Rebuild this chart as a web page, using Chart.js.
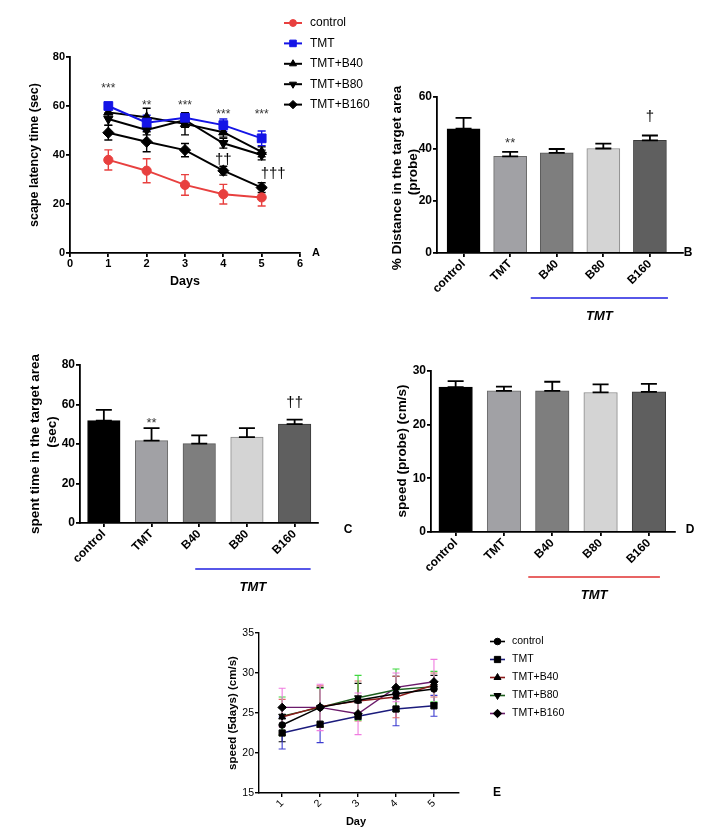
<!DOCTYPE html>
<html>
<head>
<meta charset="utf-8">
<script src="https://cdn.jsdelivr.net/npm/chart.js@4.4.0/dist/chart.umd.min.js"></script>
<style>
html,body{margin:0;padding:0;background:#fff;width:716px;height:839px;overflow:hidden}
canvas{position:absolute;left:0;top:0}
</style>
</head>
<body>
<canvas id="cA" width="716" height="839"></canvas>
<canvas id="cB" width="716" height="839"></canvas>
<canvas id="cC" width="716" height="839"></canvas>
<canvas id="cD" width="716" height="839"></canvas>
<canvas id="cE" width="716" height="839"></canvas>
<script>
// ================= DATA =================
// Panel A: escape latency (sec) over days
const daysA = [1, 2, 3, 4, 5];
const seriesNames = ['control', 'TMT', 'TMT+B40', 'TMT+B80', 'TMT+B160'];
const latControl = [38.0, 33.6, 27.8, 24.0, 22.7];
const latTMT     = [60.0, 53.2, 55.2, 52.2, 46.8];
const latB40     = [57.4, 55.4, 52.7, 49.3, 41.3];
const latB80     = [54.7, 50.2, 54.3, 44.8, 40.0];
const latB160    = [49.1, 45.4, 42.0, 33.6, 26.7];
const latErrControl = [4.1, 4.9, 4.2, 4.0, 3.5];
const latErrTMT     = [1.0, 3.0, 2.0, 2.5, 3.0];
const latErrB40     = [2.0, 3.7, 4.5, 2.0, 2.0];
const latErrB80     = [2.5, 2.0, 3.0, 2.0, 2.0];
const latErrB160    = [3.0, 4.1, 2.7, 1.8, 2.0];
const starLabelsA = ['***', '**', '***', '***', '***'];
const starYA      = [67, 60, 60, 56.5, 56.5];
const daggerLabelsA = ['††', '†††'];
const daggerXA      = [4, 5.3];
const daggerYA      = [38, 32.2];

// Bar panels
const groups = ['control', 'TMT', 'B40', 'B80', 'B160'];
// Panel B: % distance in the target area (probe)
const distMean = [47.8, 37.2, 38.5, 40.2, 43.3];
const distErr  = [4.2, 1.7, 1.5, 1.9, 1.9];
const distMarks  = ['', '**', '', '', '†'];
const distMarkY  = [0, 42, 0, 0, 52.5];
// Panel C: spent time in the target area (sec)
const timeMean = [51.8, 41.7, 40.2, 43.5, 50.1];
const timeErr  = [5.5, 6.3, 4.2, 4.5, 2.2];
const timeMarks = ['', '**', '', '', '††'];
const timeMarkY = [0, 50.3, 0, 0, 60.6];
// Panel D: speed (probe) (cm/s)
const speedMean = [27.0, 26.3, 26.3, 26.0, 26.1];
const speedErr  = [1.1, 0.8, 1.7, 1.5, 1.5];

// Panel E: speed over 5 days (cm/s)
const daysE = [1, 2, 3, 4, 5];
const spdControl = [23.5, 25.7, 26.6, 27.4, 28.0];
const spdTMT     = [22.5, 23.6, 24.6, 25.5, 25.9];
const spdB40     = [24.5, 25.8, 26.5, 27.0, 28.5];
const spdB80     = [24.6, 25.7, 26.9, 27.9, 28.3];
const spdB160    = [25.7, 25.7, 24.9, 28.2, 28.9];
const spdErrControl = [2.1, 2.5, 2.1, 2.2, 1.7];
const spdErrTMT     = [2.0, 2.3, 0.4, 2.1, 1.3];
const spdErrB40     = [2.2, 2.6, 2.5, 2.6, 1.5];
const spdErrB80     = [2.4, 2.4, 2.8, 2.6, 1.9];
const spdErrB160    = [2.4, 2.9, 2.6, 1.8, 2.8];

// ================= HELPERS =================
const W = 716, H = 839;
const FF = "'Liberation Sans', Arial, Helvetica, sans-serif";

function merge(a, b) {
  const o = Object.assign({}, a);
  for (const k in b) {
    const v = b[k];
    if (v && typeof v === 'object' && !Array.isArray(v) && a[k] && typeof a[k] === 'object' && !Array.isArray(a[k])) o[k] = merge(a[k], v);
    else o[k] = v;
  }
  return o;
}
function fixedLayout(area, yW, xH) {
  return {autoPadding: false, padding: {left: area.l - yW, top: area.t, right: W - area.r, bottom: H - area.b - xH}};
}
function axis(pos, size, font, lw, extra) {
  const base = {
    position: pos,
    afterFit: pos === 'left' ? (s => { s.width = size; }) : (s => { s.height = size; }),
    border: {display: true, color: '#000', width: lw},
    grid: {display: true, drawOnChartArea: false, drawTicks: true, tickLength: 4, color: '#000', lineWidth: lw, offset: false},
    ticks: {color: '#000', font: font, padding: 1, autoSkip: false}
  };
  return merge(base, extra || {});
}
function txt(ctx, s, x, y, font, o) {
  o = o || {};
  ctx.save();
  ctx.font = font;
  ctx.fillStyle = o.color || '#000';
  ctx.textAlign = o.align || 'center';
  ctx.textBaseline = o.baseline || 'middle';
  if (o.rot) { ctx.translate(x, y); ctx.rotate(o.rot); ctx.fillText(s, 0, 0); }
  else ctx.fillText(s, x, y);
  ctx.restore();
}
function marker(ctx, style, r, rot, x, y, fill, stroke) {
  ctx.save();
  ctx.fillStyle = fill; ctx.strokeStyle = stroke; ctx.lineWidth = 1;
  if (Chart.helpers && Chart.helpers.drawPoint) {
    Chart.helpers.drawPoint(ctx, {pointStyle: style, radius: r, rotation: rot, borderWidth: 1}, x, y);
  } else {
    ctx.beginPath(); ctx.arc(x, y, r, 0, Math.PI * 2); ctx.fill();
  }
  ctx.restore();
}
function errLine(ctx, x, yTop, yBot, cap, color, lw) {
  ctx.save();
  ctx.strokeStyle = color; ctx.lineWidth = lw;
  ctx.beginPath();
  ctx.moveTo(x, yTop); ctx.lineTo(x, yBot);
  ctx.moveTo(x - cap / 2, yTop); ctx.lineTo(x + cap / 2, yTop);
  if (yBot !== null) { ctx.moveTo(x - cap / 2, yBot); ctx.lineTo(x + cap / 2, yBot); }
  ctx.stroke();
  ctx.restore();
}
const commonOpts = {responsive: false, animation: false, events: [], devicePixelRatio: 1,
  plugins: {legend: {display: false}, tooltip: {enabled: false}}};

// line-chart error bars (both directions), drawn under markers
const lineErrPlugin = {
  id: 'lineErr',
  beforeDatasetsDraw(chart, args, opts) {
    const ctx = chart.ctx, ys = chart.scales.y;
    chart.data.datasets.forEach((ds, di) => {
      const meta = chart.getDatasetMeta(di);
      meta.data.forEach((pt, i) => {
        const v = ds.data[i].y, e = ds.err[i];
        const yT = ys.getPixelForValue(v + e), yB = ys.getPixelForValue(v - e);
        ctx.save();
        ctx.strokeStyle = ds.errColor; ctx.lineWidth = opts.lw;
        ctx.beginPath();
        ctx.moveTo(pt.x, yT); ctx.lineTo(pt.x, yB);
        ctx.moveTo(pt.x - opts.cap / 2, yT); ctx.lineTo(pt.x + opts.cap / 2, yT);
        ctx.moveTo(pt.x - opts.cap / 2, yB); ctx.lineTo(pt.x + opts.cap / 2, yB);
        ctx.stroke();
        ctx.restore();
      });
    });
  }
};

// ================= PANEL A =================
const areaA = {l: 70, t: 57, r: 300, b: 253};
const latA = [latControl, latTMT, latB40, latB80, latB160];
const latErrA = [latErrControl, latErrTMT, latErrB40, latErrB80, latErrB160];
const colA = ['#e8403f', '#1414e6', '#000000', '#000000', '#000000'];
const styleA = ['circle', 'rect', 'triangle', 'triangle', 'rectRot'];
const rotA = [0, 0, 0, 180, 0];
const radA = [4.6, 6.2, 5.4, 5.4, 5.6];
const FB11 = {family: FF, size: 11, weight: 'bold'};

new Chart(document.getElementById('cA'), {
  type: 'line',
  data: {datasets: seriesNames.map((n, k) => ({
    label: n,
    data: daysA.map((d, i) => ({x: d, y: latA[k][i]})),
    err: latErrA[k], errColor: colA[k],
    borderColor: colA[k], backgroundColor: colA[k], borderWidth: 2,
    pointStyle: styleA[k], pointRotation: rotA[k], pointRadius: radA[k], pointBorderWidth: 1,
    pointBackgroundColor: colA[k], pointBorderColor: colA[k], tension: 0
  }))},
  options: merge(commonOpts, {
    layout: fixedLayout(areaA, 40, 30),
    plugins: {lineErr: {lw: 1.4, cap: 8}},
    scales: {
      x: axis('bottom', 30, FB11, 1.8, {type: 'linear', min: 0, max: 6, ticks: {stepSize: 1, padding: 0}}),
      y: axis('left', 40, FB11, 1.8, {type: 'linear', min: 0, max: 80, ticks: {stepSize: 20}})
    }
  }),
  plugins: [lineErrPlugin, {
    id: 'decorA',
    afterDraw(chart) {
      const ctx = chart.ctx, xs = chart.scales.x, ys = chart.scales.y, ca = chart.chartArea;
      starLabelsA.forEach((s, i) => txt(ctx, s, xs.getPixelForValue(daysA[i]), ys.getPixelForValue(starYA[i]), `12px ${FF}`, {color: '#333'}));
      daggerLabelsA.forEach((s, i) => txt(ctx, s, xs.getPixelForValue(daggerXA[i]), ys.getPixelForValue(daggerYA[i]), `15px ${FF}`));
      txt(ctx, 'scape latency time (sec)', 35, (ca.top + ca.bottom) / 2, `bold 12.5px ${FF}`, {rot: -Math.PI / 2});
      txt(ctx, 'Days', (ca.left + ca.right) / 2, 282, `bold 12.5px ${FF}`);
      txt(ctx, 'A', 316, ca.bottom, `bold 11px ${FF}`);
      // legend
      seriesNames.forEach((n, k) => {
        const y = 23 + 20.4 * k;
        ctx.save(); ctx.strokeStyle = colA[k]; ctx.lineWidth = 2;
        ctx.beginPath(); ctx.moveTo(284, y); ctx.lineTo(302, y); ctx.stroke(); ctx.restore();
        marker(ctx, styleA[k], radA[k] * 0.75, rotA[k], 293, y, colA[k], colA[k]);
        txt(ctx, n, 310, y, `12px ${FF}`, {align: 'left'});
      });
    }
  }]
});

// ================= BAR PANELS =================
const barColors = ['#000000', '#a1a1a5', '#7e7e7e', '#d4d4d4', '#5f5f5f'];
const barBorders = ['#000000', '#6a6a6a', '#5a5a5a', '#8a8a8a', '#3a3a3a'];
const FB12 = {family: FF, size: 12, weight: 'bold'};

function barChart(id, area, xmin, xmax, ymax, step, means, errs, thick, marks, markY, title, titleX, titleY, letter, letterPos, groupLine) {
  new Chart(document.getElementById(id), {
    type: 'bar',
    data: {datasets: [{
      data: groups.map((g, i) => ({x: i, y: means[i]})),
      backgroundColor: barColors, borderColor: barBorders, borderWidth: 1, borderSkipped: 'bottom',
      barThickness: thick
    }]},
    options: merge(commonOpts, {
      layout: fixedLayout(area, 40, 60),
      scales: {
        x: axis('bottom', 60, FB12, 1.8, {type: 'linear', min: xmin, max: xmax, offset: false,
          afterBuildTicks: s => { s.ticks = groups.map((g, i) => ({value: i})); },
          ticks: {minRotation: 45, maxRotation: 45, padding: 0, callback: v => groups[Math.round(v)]}}),
        y: axis('left', 40, FB12, 1.8, {type: 'linear', min: 0, max: ymax, ticks: {stepSize: step}})
      }
    }),
    plugins: [{
      id: 'decor' + id,
      afterDatasetsDraw(chart) {
        const ctx = chart.ctx, ys = chart.scales.y;
        chart.getDatasetMeta(0).data.forEach((bar, i) => {
          errLine(ctx, bar.x, ys.getPixelForValue(means[i] + errs[i]), bar.y, 16, '#000', 1.8);
        });
      },
      afterDraw(chart) {
        const ctx = chart.ctx, xs = chart.scales.x, ys = chart.scales.y, ca = chart.chartArea;
        marks.forEach((m, i) => {
          if (!m) return;
          const big = m.indexOf('†') >= 0;
          txt(ctx, m, xs.getPixelForValue(i), ys.getPixelForValue(markY[i]), (big ? '15px ' : '13px ') + FF, {color: big ? '#000' : '#333'});
        });
        title.forEach((t, j) => txt(ctx, t, titleX[j], titleY[j], `bold 13.5px ${FF}`, {rot: -Math.PI / 2}));
        txt(ctx, letter, letterPos[0], letterPos[1], `bold 12px ${FF}`);
        // TMT group underline
        const x1 = xs.getPixelForValue(2) + groupLine.dl, x2 = xs.getPixelForValue(4) + groupLine.dr;
        const ly = ca.bottom + groupLine.dy;
        ctx.save(); ctx.strokeStyle = groupLine.color; ctx.lineWidth = 1.6;
        ctx.beginPath(); ctx.moveTo(x1, ly); ctx.lineTo(x2, ly); ctx.stroke(); ctx.restore();
        txt(ctx, 'TMT', (x1 + x2) / 2, ly + 18, `italic bold 13px ${FF}`);
      }
    }]
  });
}

barChart('cB', {l: 437, t: 97, r: 683, b: 253}, -0.57, 4.71, 60, 20, distMean, distErr, 33,
  distMarks, distMarkY, ['% Distance in the target area', '(probe)'], [397, 413], [178, 172],
  'B', [688, 253], {dl: -26, dr: 18, dy: 45, color: '#1f1fe0'});

barChart('cC', {l: 80, t: 365, r: 318, b: 523}, -0.5, 4.49, 80, 20, timeMean, timeErr, 32.5,
  timeMarks, timeMarkY, ['spent time in the target area', '(sec)'], [35, 52], [444, 432],
  'C', [348, 530], {dl: -4, dr: 16, dy: 46, color: '#1f1fe0'});

barChart('cD', {l: 431, t: 371, r: 675, b: 532}, -0.51, 4.54, 30, 10, speedMean, speedErr, 33.5,
  ['', '', '', '', ''], [0, 0, 0, 0, 0], ['speed (probe) (cm/s)'], [402], [451],
  'D', [690, 530], {dl: -24, dr: 11, dy: 45, color: '#e03030'});

// ================= PANEL E =================
const areaE = {l: 259, t: 633, r: 459, b: 793};
const spdE = [spdControl, spdTMT, spdB40, spdB80, spdB160];
const spdErrE = [spdErrControl, spdErrTMT, spdErrB40, spdErrB80, spdErrB160];
const lineColE = ['#000000', '#1b1b7c', '#8c1b1b', '#1d5f1d', '#6b1b6b'];
const errColE = ['#000000', '#3c3cd0', '#e06a6a', '#3fd83f', '#f07ce0'];
const styleE = ['circle', 'rect', 'triangle', 'triangle', 'rectRot'];
const rotE = [0, 0, 0, 180, 0];
const radE = [3.3, 4.4, 4, 4, 4.2];
const FN10 = {family: FF, size: 10.5};

new Chart(document.getElementById('cE'), {
  type: 'line',
  data: {datasets: seriesNames.map((n, k) => ({
    label: n,
    data: daysE.map((d, i) => ({x: d, y: spdE[k][i]})),
    err: spdErrE[k], errColor: errColE[k],
    borderColor: lineColE[k], backgroundColor: '#000', borderWidth: 1.4,
    pointStyle: styleE[k], pointRotation: rotE[k], pointRadius: radE[k], pointBorderWidth: 1,
    pointBackgroundColor: '#000', pointBorderColor: '#000', tension: 0
  }))},
  options: merge(commonOpts, {
    layout: fixedLayout(areaE, 40, 30),
    plugins: {lineErr: {lw: 1.1, cap: 7}},
    scales: {
      x: axis('bottom', 30, FN10, 1.4, {type: 'linear', min: 0.39, max: 5.66,
        afterBuildTicks: s => { s.ticks = daysE.map(d => ({value: d})); },
        ticks: {minRotation: 45, maxRotation: 45, padding: 0}}),
      y: axis('left', 40, FN10, 1.4, {type: 'linear', min: 15, max: 35, ticks: {stepSize: 5}})
    }
  }),
  plugins: [lineErrPlugin, {
    id: 'decorE',
    afterDraw(chart) {
      const ctx = chart.ctx, ca = chart.chartArea;
      txt(ctx, 'speed (5days) (cm/s)', 233, (ca.top + ca.bottom) / 2, `bold 11.5px ${FF}`, {rot: -Math.PI / 2});
      txt(ctx, 'Day', 356, 822, `bold 11px ${FF}`);
      txt(ctx, 'E', 497, 793, `bold 12px ${FF}`);
      seriesNames.forEach((n, k) => {
        const y = 641.5 + 18 * k;
        ctx.save(); ctx.strokeStyle = lineColE[k]; ctx.lineWidth = 1.6;
        ctx.beginPath(); ctx.moveTo(490, y); ctx.lineTo(505, y); ctx.stroke(); ctx.restore();
        marker(ctx, styleE[k], radE[k], rotE[k], 497.5, y, '#000', '#000');
        txt(ctx, n, 512, y, `10.5px ${FF}`, {align: 'left'});
      });
    }
  }]
});
</script>
</body>
</html>
